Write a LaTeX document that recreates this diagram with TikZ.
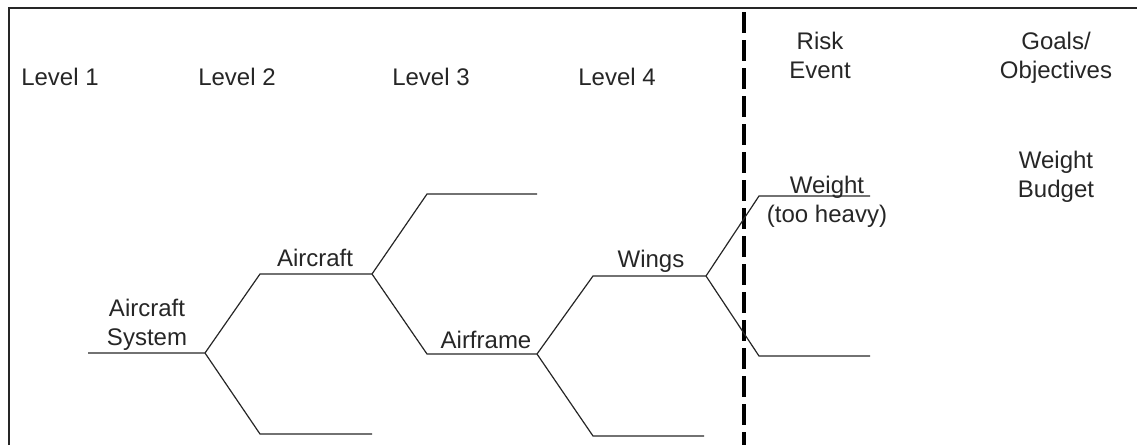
\documentclass[tikz,border=0pt]{standalone}
\usepackage{fontspec}
\setmainfont{Liberation Sans}
\begin{document}
\begin{tikzpicture}[x=1pt,y=-1pt,
  lbl/.style={inner sep=0pt, anchor=base, align=center, font=\fontsize{24}{29}\selectfont, text=black!85},
  branch/.style={line width=1.2pt, black!85},
  frameline/.style={line width=2pt, black!85},
  divider/.style={line width=3.3pt, black, dash pattern=on 21pt off 7pt}]
\useasboundingbox (0,0) rectangle (1137,445);
% frame
\coordinate (fTL) at (9,8);
\coordinate (fTR) at (1137,8);
\coordinate (fBL) at (9,445);
\draw[frameline] (fBL) -- (fTL) -- (fTR);
% divider
\coordinate (dT) at (744,12);
\coordinate (dB) at (744,445);
\draw[divider] (dT) -- (dB);
% tree coordinates
\coordinate (sysL) at (88,353);  \coordinate (sysR) at (205,353);
\coordinate (acL) at (260,274);  \coordinate (acR) at (372,274);
\coordinate (lbL) at (260,434);  \coordinate (lbR) at (372,434);
\coordinate (ltL) at (427,194);  \coordinate (ltR) at (537,194);
\coordinate (afL) at (427,354);  \coordinate (afR) at (537,354);
\coordinate (wgL) at (593,276);  \coordinate (wgR) at (706,276);
\coordinate (mbL) at (593,436);  \coordinate (mbR) at (704,436);
\coordinate (wtL) at (759,196);  \coordinate (wtR) at (870,196);
\coordinate (rbL) at (759,356);  \coordinate (rbR) at (870,356);
\draw[branch] (sysL) -- (sysR) -- (acL) -- (acR);
\draw[branch] (sysR) -- (lbL) -- (lbR);
\draw[branch] (acR) -- (ltL) -- (ltR);
\draw[branch] (acR) -- (afL) -- (afR);
\draw[branch] (afR) -- (wgL) -- (wgR);
\draw[branch] (afR) -- (mbL) -- (mbR);
\draw[branch] (wgR) -- (wtL) -- (wtR);
\draw[branch] (wgR) -- (rbL) -- (rbR);
% headers (base anchor = baseline of last line)
\node[lbl] (lv1) at (60,85) {Level 1};
\node[lbl] (lv2) at (237,85) {Level 2};
\node[lbl] (lv3) at (431,85) {Level 3};
\node[lbl] (lv4) at (617,85) {Level 4};
\node[lbl] (risk) at (820,78) {Risk\\Event};
\node[lbl] (goals) at (1056,78) {Goals/\\Objectives};
% labels
\node[lbl] (tsys) at (147,345) {Aircraft\\System};
\node[lbl] (tac) at (315,266) {Aircraft};
\node[lbl] (taf) at (486,348) {Airframe};
\node[lbl] (twg) at (651,267) {Wings};
\node[lbl] (twt) at (827,222) {Weight\\(too heavy)};
\node[lbl] (tbud) at (1056,197) {Weight\\Budget};
\end{tikzpicture}
\end{document}
